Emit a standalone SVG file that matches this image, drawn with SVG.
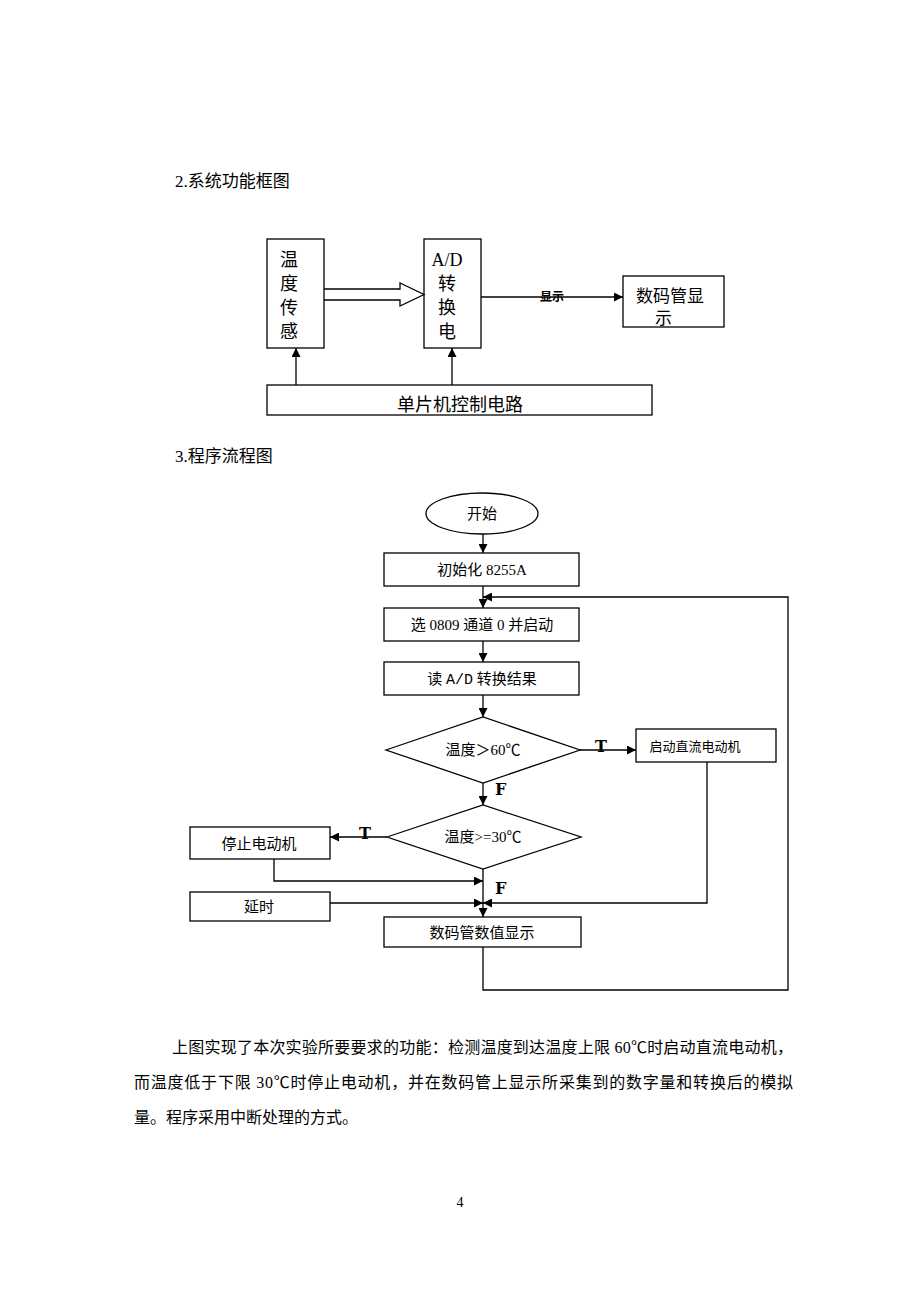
<svg xmlns="http://www.w3.org/2000/svg" width="920" height="1302" viewBox="0 0 920 1302">
<style>
text{font-family:"Liberation Serif","Noto Sans CJK SC",serif;fill:#000}
.box{fill:#fff;stroke:#000;stroke-width:1.3}
.ln{fill:none;stroke:#000;stroke-width:1.3}
.c{text-anchor:middle}
.h{font-size:17px}
.b{font-size:18px}
.f{font-size:15px}
.tf{font-size:16px;font-weight:bold;font-family:"DejaVu Serif","Liberation Serif",serif}
.p{font-size:16px}
</style>
<defs>
<marker id="ah" viewBox="0 0 10 10" refX="10" refY="5" markerWidth="9" markerHeight="9" markerUnits="userSpaceOnUse" orient="auto">
<path d="M0,0 L10,5 L0,10 z" fill="#000"/>
</marker>
</defs>
<text class="h" x="175" y="187">2.系统功能框图</text>
<text class="h" x="175" y="462">3.程序流程图</text>

<g id="sensor"><rect class="box" x="267" y="239" width="57" height="109"/>
<text class="b" x="289" y="266" text-anchor="middle">温</text>
<text class="b" x="289" y="290" text-anchor="middle">度</text>
<text class="b" x="289" y="314" text-anchor="middle">传</text>
<text class="b" x="289" y="338" text-anchor="middle">感</text></g>
<g id="adc"><rect class="box" x="424" y="239" width="57" height="109"/>
<text class="b" x="447" y="266" text-anchor="middle">A/D</text>
<text class="b" x="447" y="290" text-anchor="middle">转</text>
<text class="b" x="447" y="314" text-anchor="middle">换</text>
<text class="b" x="447" y="338" text-anchor="middle">电</text></g>
<g id="disp"><rect class="box" x="623" y="276" width="101" height="51"/>
<text x="636" y="302" style="font-size:17px">数码管显</text>
<text x="655" y="324" style="font-size:17px">示</text></g>
<g id="mcu"><rect class="box" x="267" y="385" width="385" height="30"/>
<text class="b c" x="460" y="411">单片机控制电路</text></g>

<g id="connectors">
<path class="ln" d="M324,289 H400 V283 L424,294.5 L400,306 V300 H324"/>
<line class="ln" x1="481" y1="297" x2="623" y2="297" marker-end="url(#ah)"/>
<text x="552" y="301" class="c" style="font-size:12px;font-weight:bold">显示</text>
<line class="ln" x1="296" y1="385" x2="296" y2="348" marker-end="url(#ah)"/>
<line class="ln" x1="452" y1="385" x2="452" y2="348" marker-end="url(#ah)"/>

<line class="ln" x1="483" y1="534" x2="483" y2="553" marker-end="url(#ah)"/>
<line class="ln" x1="483" y1="586" x2="483" y2="608" marker-end="url(#ah)"/>
<line class="ln" x1="483" y1="641" x2="483" y2="662" marker-end="url(#ah)"/>
<line class="ln" x1="483" y1="695" x2="483" y2="717" marker-end="url(#ah)"/>
<line class="ln" x1="580" y1="750" x2="636" y2="750" marker-end="url(#ah)"/>
<text class="tf c" x="601" y="752">T</text>
<line class="ln" x1="483" y1="783" x2="483" y2="805" marker-end="url(#ah)"/>
<text class="tf" x="495" y="795">F</text>
<line class="ln" x1="387" y1="837" x2="330" y2="837" marker-end="url(#ah)"/>
<text class="tf c" x="365" y="839">T</text>
<line class="ln" x1="483" y1="869" x2="483" y2="917" marker-end="url(#ah)"/>
<text class="tf" x="495" y="894">F</text>
<path class="ln" d="M274,859 V881 H483" marker-end="url(#ah)"/>
<path class="ln" d="M330,903 H483" marker-end="url(#ah)"/>
<path class="ln" d="M707,762 V903 H483" marker-end="url(#ah)"/>
<path class="ln" d="M483,947 V990 H788 V597 H483" marker-end="url(#ah)"/>
</g>

<g id="start"><ellipse class="box" cx="482" cy="513.5" rx="56" ry="20.5"/>
<text class="f c" x="482" y="519">开始</text></g>
<g id="init"><rect class="box" x="384" y="553" width="195" height="33"/>
<text class="f c" x="482" y="575">初始化 8255A</text></g>
<g id="sel"><rect class="box" x="384" y="608" width="195" height="33"/>
<text class="f c" x="482" y="630">选 0809 通道 0 并启动</text></g>
<g id="read"><rect class="box" x="384" y="662" width="195" height="33"/>
<text class="f c" x="482" y="684">读 <tspan style="font-family:'Liberation Mono',monospace">A/D</tspan> 转换结果</text></g>
<g id="dec1"><path class="box" d="M386,750 L483,717 L580,750 L483,783 z"/>
<text class="f c" x="483" y="755">温度＞60℃</text></g>
<g id="motoron"><rect class="box" x="636" y="729" width="140" height="33"/>
<text class="c" x="695" y="751" style="font-size:13px">启动直流电动机</text></g>
<g id="dec2"><path class="box" d="M387,837 L483,805 L581,837 L483,869 z"/>
<text class="f c" x="483" y="842">温度&gt;=30℃</text></g>
<g id="motoroff"><rect class="box" x="190" y="827" width="140" height="32"/>
<text class="f c" x="259" y="849">停止电动机</text></g>
<g id="delay"><rect class="box" x="190" y="892" width="140" height="29"/>
<text class="f c" x="259" y="912">延时</text></g>
<g id="show"><rect class="box" x="384" y="917" width="197" height="30"/>
<text class="f c" x="482" y="938">数码管数值显示</text></g>

<text class="p" x="172" y="1053" textLength="621" lengthAdjust="spacing">上图实现了本次实验所要要求的功能：检测温度到达温度上限 60℃时启动直流电动机，</text>
<text class="p" x="134" y="1088" textLength="659" lengthAdjust="spacing">而温度低于下限 30℃时停止电动机，并在数码管上显示所采集到的数字量和转换后的模拟</text>
<text class="p" x="134" y="1123">量。程序采用中断处理的方式。</text>
<text x="460" y="1207" class="c" style="font-size:14px">4</text>
</svg>
